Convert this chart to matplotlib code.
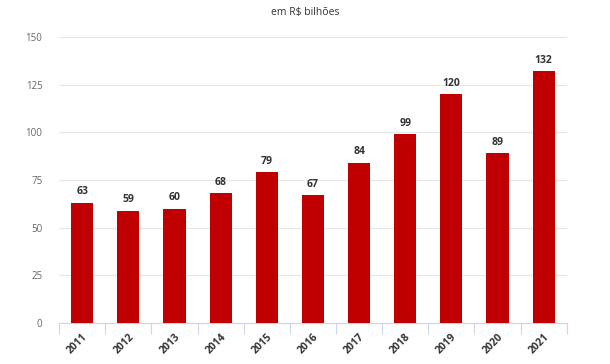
import matplotlib
matplotlib.use('Agg')
import matplotlib.pyplot as plt
import numpy as np

plt.rcParams['font.family'] = ['Open Sans', 'DejaVu Sans']

years = ['2011', '2012', '2013', '2014', '2015', '2016', '2017', '2018', '2019', '2020', '2021']
values = [63, 59, 60, 68, 79, 67, 84, 99, 120, 89, 132]
y_ticks = [0, 25, 50, 75, 100, 125, 150]

fig = plt.figure(figsize=(6.1, 3.64), dpi=100)
ax = fig.add_axes([0.097, 0.1126, 0.832, 0.7854])

x = np.arange(len(years))
ax.bar(x, values, width=0.48, color='#c00000', zorder=3)
for xi, v in zip(x, values):
    ax.text(xi, v + 3, str(v), ha='center', va='bottom', fontsize=7.5,
            fontweight='bold', color='#333333')

ax.set_xlim(-0.5, len(years) - 0.5)
ax.set_ylim(0, 150)
ax.set_yticks(y_ticks)
ax.set_yticklabels([str(t) for t in y_ticks], fontsize=7, color='#666666')
ax.tick_params(axis='y', length=0, pad=12)
ax.yaxis.grid(True, color='#e6e6e6', linewidth=0.8, zorder=0)

# category labels centred on bars, ticks at category boundaries
ax.set_xticks(x)
ax.set_xticklabels(years, rotation=45, ha='right', rotation_mode='anchor',
                   fontsize=7.5, fontweight='bold', color='#333333')
ax.tick_params(axis='x', which='major', length=0, pad=6)
ax.set_xticks(np.arange(-0.5, len(years)), minor=True)
ax.tick_params(axis='x', which='minor', length=8, color='#ccd6eb', width=0.8)

for side in ['top', 'right', 'left']:
    ax.spines[side].set_visible(False)
ax.spines['bottom'].set_color('#ccd6eb')
ax.spines['bottom'].set_linewidth(0.8)

fig.text(0.5, 0.965, 'em R$ bilhões', ha='center', va='center', fontsize=7.5, color='#333333')

fig.savefig('out.png', dpi=100)
